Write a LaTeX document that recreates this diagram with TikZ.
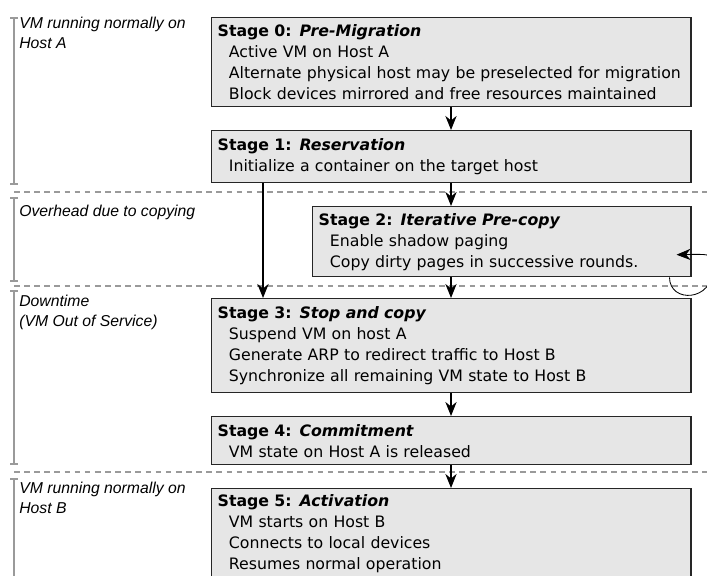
\documentclass[tikz,border=0pt]{standalone}
\usepackage{fontspec}
\setmainfont{DejaVu Sans}
\newfontfamily\phasefont{Liberation Sans}
\usetikzlibrary{arrows.meta}
\definecolor{boxgray}{HTML}{E6E6E6}
\definecolor{linegray}{HTML}{9A9A9A}
\tikzstyle{stage} = [rectangle, draw=black!85, line width=1pt, fill=boxgray,
    anchor=north west, align=left, inner xsep=0.15cm, inner ysep=2pt,
    font=\fontsize{11.2}{14.9}\selectfont]
\tikzstyle{phase} = [anchor=north west, align=left, inner sep=0pt,
    font=\phasefont\itshape\fontsize{11.2}{14}\selectfont]
\tikzstyle{flow} = [-{Stealth[length=10pt,width=8pt]}, thick]
\tikzstyle{span} = [linegray, line width=1.4pt, {Bar[width=5pt]}-{Bar[width=5pt]}]
\tikzstyle{sep} = [linegray, dash pattern=on 4pt off 3.2pt, line width=1pt]
\newcommand{\stagetitle}[2]{\textbf{Stage #1: \textit{#2}}}
\newcommand{\itm}{\hspace*{0.28cm}}

\begin{document}
\begin{tikzpicture}[x=0.025cm, y=-0.025cm]
    \clip (0,0) rectangle (707,576);

    % phases on the left
    \draw [span] (14,17) -- (14,185);
    \draw [span] (14,197) -- (14,282);
    \draw [span] (14,290) -- (14,465);
    \draw [span] (14,478) -- (14,600);
    \draw [sep] (14,192) -- (707,192);
    \draw [sep] (14,286) -- (707,286);
    \draw [sep] (14,472) -- (707,472);

    \node (p0) [phase] at (19,17) {VM running normally on\\Host A};
    \node (p1) [phase] at (19,205) {Overhead due to copying};
    \node (p2) [phase] at (19,295) {Downtime\\(VM Out of Service)};
    \node (p3) [phase] at (19,482) {VM running normally on\\Host B};

    % stages
    \node (s0) [stage, text width=11.675cm, minimum height=2.225cm] at (211,17) {
        \stagetitle{0}{Pre-Migration}\\
        \itm Active VM on Host A\\
        \itm Alternate physical host may be preselected for migration\\
        \itm Block devices mirrored and free resources maintained};
    \node (s1) [stage, text width=11.675cm, minimum height=1.3cm] at (211,130) {
        \stagetitle{1}{Reservation}\\
        \itm Initialize a container on the target host};
    \node (s2) [stage, text width=9.15cm, minimum height=1.75cm] at (312,206) {
        \stagetitle{2}{Iterative Pre-copy}\\
        \itm Enable shadow paging\\
        \itm Copy dirty pages in successive rounds.};
    \node (s3) [stage, text width=11.675cm, minimum height=2.35cm] at (211,298) {
        \stagetitle{3}{Stop and copy}\\
        \itm Suspend VM on host A\\
        \itm Generate ARP to redirect traffic to Host B\\
        \itm Synchronize all remaining VM state to Host B};
    \node (s4) [stage, text width=11.675cm, minimum height=1.2cm] at (211,416) {
        \stagetitle{4}{Commitment}\\
        \itm VM state on Host A is released};
    \node (s5) [stage, text width=11.675cm, minimum height=2.25cm] at (211,488) {
        \stagetitle{5}{Activation}\\
        \itm VM starts on Host B\\
        \itm Connects to local devices\\
        \itm Resumes normal operation};

    \coordinate (main) at (451,0);
    \coordinate (side) at (263,0);
    \coordinate (turn) at (713,268);

    \draw [flow] (s0.south -| main) -- (s1.north -| main);
    \draw [flow] (s1.south -| main) -- (s2.north -| main);
    \draw [flow] (s2.south -| main) -- (s3.north -| main);
    \draw [flow] (s3.south -| main) -- (s4.north -| main);
    \draw [flow] (s4.south -| main) -- (s5.north -| main);
    \draw [flow] (s1.south -| side) -- (s3.north -| side);

    % repeated rounds
    \draw [flow, semithick] ([xshift=-0.55cm]s2.south east) .. controls +(0,26) and +(0,34) .. (turn)
        .. controls +(0,-14) .. ([xshift=-0.375cm, yshift=-0.325cm]s2.east);
\end{tikzpicture}
\end{document}
